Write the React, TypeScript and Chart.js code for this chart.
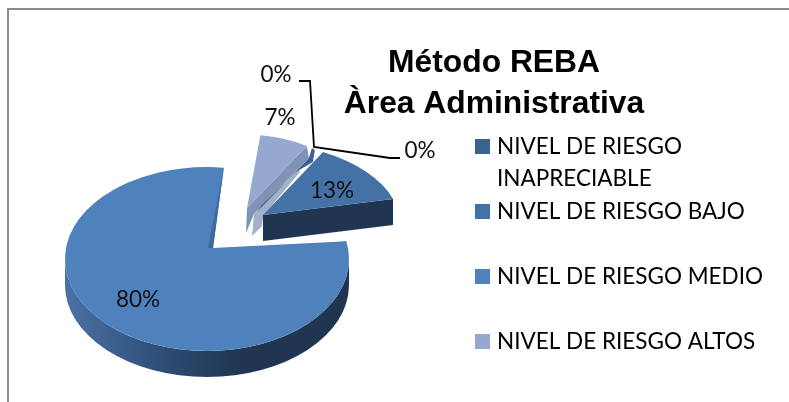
import React, { useEffect, useRef } from "react";
import { Chart, registerables } from "chart.js";

Chart.register(...registerables);

const categories = [
  ["NIVEL DE RIESGO", "INAPRECIABLE"],
  ["NIVEL DE RIESGO BAJO", ""],
  ["NIVEL DE RIESGO MEDIO", ""],
  ["NIVEL DE RIESGO ALTOS", ""],
  ["", ""],
];
const values = [0, 13, 80, 7, 0];
const sliceColors = ["#3b6291", "#4572a6", "#4f81bd", "#95a9d0", "#7f93b5"];
const titleLines = ["Método REBA", "Àrea Administrativa"];

const FONT = "Lato";
const TEXT_SIZE = 22.5;
const K = 0.648;
const DEPTH = 26;
// exploded 3D placement, screen px: [centre x, centre y, radius]
const PLACE: number[][] = [
  [290, 182, 4],
  [263, 215, 128],
  [207, 259, 142],
  [247, 208, 113],
  [290, 182, 4],
];
const MEDIO_APEX = [213, 248];
// where the corners of the foreshortened right slice land, relative to its apex
const BAJO_V1 = [60, -63];
const BAJO_V2 = [130, -16];
// label centres in screen px, same order as values
const LABEL_AT: number[][] = [
  [420, 151],
  [332, 191],
  [138, 300],
  [280, 117.5],
  [276, 75],
];

const poly = (ctx: any, pts: number[][], fill: any) => {
  ctx.beginPath();
  pts.forEach((p, i) => (i ? ctx.lineTo(p[0], p[1]) : ctx.moveTo(p[0], p[1])));
  ctx.closePath();
  ctx.fillStyle = fill;
  ctx.fill();
};
const edge = (el: any, a: number) => [
  el.x + el.outerRadius * Math.cos(a),
  (el.y + el.outerRadius * Math.sin(a)) * K,
];

const pie3d = {
  id: "pie3d",
  beforeDraw(chart: any) {
    const { ctx } = chart;
    ctx.save();
    ctx.fillStyle = "#ffffff";
    ctx.fillRect(0, 0, chart.width, chart.height);
    ctx.fillStyle = "#8a8a8a";
    ctx.fillRect(7, 8, chart.width - 7, 2);
    ctx.fillRect(7, 8, 2, chart.height - 8);
    ctx.restore();
  },
  afterLayout(chart: any) {
    const t = chart.titleBlock;
    t.left = 294;
    t.right = 694;
    t.top = 43;
    const l = chart.legend;
    l.left = 479.25;
    l.top = 135.25;
    // the legend is placed by hand, so its own clip box no longer applies
    l.draw = function () {
      this._draw();
    };
  },
  afterDatasetsUpdate(chart: any) {
    chart.getDatasetMeta(0).data.forEach((el: any, i: number) => {
      el.x = PLACE[i][0];
      el.y = PLACE[i][1] / K;
      el.outerRadius = PLACE[i][2];
      el.innerRadius = 0;
    });
  },
  beforeDatasetDraw(chart: any) {
    const { ctx } = chart;
    const els = chart.getDatasetMeta(0).data;
    const [, bajo, medio, altos] = els;
    const drawTop = (el: any) => {
      ctx.save();
      ctx.scale(1, K);
      el.draw(ctx);
      ctx.restore();
    };

    // rim of the large slice
    const mx = medio.x;
    const my = medio.y * K;
    const mr = medio.outerRadius;
    const g = ctx.createLinearGradient(mx - mr, 0, mx + mr, 0);
    g.addColorStop(0, "#4a72a6");
    g.addColorStop(0.3, "#30527c");
    g.addColorStop(0.62, "#1f3550");
    g.addColorStop(1, "#1f3550");
    ctx.beginPath();
    ctx.ellipse(mx, my, mr, mr * K, 0, 0, Math.PI);
    ctx.ellipse(mx, my + DEPTH, mr, mr * K, 0, Math.PI, 0, true);
    ctx.closePath();
    ctx.fillStyle = g;
    ctx.fill();

    drawTop(medio);
    const mStart = edge(medio, medio.startAngle);
    const mEnd = edge(medio, medio.endAngle);
    poly(
      ctx,
      [
        [mx - 2, my + 5],
        [mStart[0] - 2, mStart[1] + 4],
        mStart,
        MEDIO_APEX,
        mEnd,
        [mEnd[0] - 3, mEnd[1] + 6],
      ],
      sliceColors[2]
    );
    poly(ctx, [mEnd, MEDIO_APEX, [MEDIO_APEX[0] - 5, MEDIO_APEX[1]]], "#3f6a9e");

    // wall of the small slice and the zero-value sliver
    const aApex = [altos.x, altos.y * K];
    const aEnd = edge(altos, altos.endAngle);
    poly(
      ctx,
      [
        aApex,
        aEnd,
        [aEnd[0] + 2, aEnd[1] + 12],
        [aApex[0] + 7, aApex[1] + 6],
        [aApex[0] - 1, aApex[1] + 25],
      ],
      sliceColors[4]
    );
    poly(
      ctx,
      [
        [aApex[0] + 5, aApex[1] + 28],
        [aApex[0] + 15, aApex[1] + 18],
        [aApex[0] + 16, aApex[1] + 8],
        [aApex[0] + 53, aApex[1] - 36],
        [aApex[0] + 51, aApex[1] - 40],
        [aApex[0] + 7, aApex[1] + 6],
      ],
      "#a4b0c6"
    );
    poly(
      ctx,
      [
        [aApex[0] + 10, aApex[1] + 4],
        [aEnd[0] + 2, aEnd[1] + 12],
        [aEnd[0] + 5, aEnd[1] + 2],
        [aEnd[0] + 8, aEnd[1] + 4],
        [aEnd[0] + 6, aEnd[1] + 16],
        [aApex[0] + 49, aApex[1] - 36],
        [aApex[0] + 15, aApex[1] - 3],
      ],
      sliceColors[0]
    );
    drawTop(altos);

    // front wall and top of the right slice
    const bx = bajo.x;
    const by = bajo.y * K;
    const bEnd = [bx + BAJO_V2[0], by + BAJO_V2[1]];
    poly(
      ctx,
      [
        [bx, by],
        bEnd,
        [bEnd[0], bEnd[1] + DEPTH],
        [bx, by + DEPTH],
      ],
      "#1f3550"
    );
    const u1 = [Math.cos(bajo.startAngle), Math.sin(bajo.startAngle)];
    const u2 = [Math.cos(bajo.endAngle), Math.sin(bajo.endAngle)];
    const det = u1[0] * u2[1] - u2[0] * u1[1];
    const r = bajo.outerRadius;
    const a = (BAJO_V1[0] * u2[1] - BAJO_V2[0] * u1[1]) / det / r;
    const c = (BAJO_V2[0] * u1[0] - BAJO_V1[0] * u2[0]) / det / r;
    const b = (BAJO_V1[1] * u2[1] - BAJO_V2[1] * u1[1]) / det / r;
    const d = (BAJO_V2[1] * u1[0] - BAJO_V1[1] * u2[0]) / det / r;
    ctx.save();
    ctx.transform(a, b, c, d, bx - a * bajo.x - c * bajo.y, by - b * bajo.x - d * bajo.y);
    bajo.draw(ctx);
    ctx.restore();
    return false;
  },
  afterDraw(chart: any) {
    const { ctx } = chart;
    ctx.save();
    ctx.strokeStyle = "#000000";
    ctx.lineWidth = 1.8;
    ctx.beginPath();
    ctx.moveTo(299, 81);
    ctx.lineTo(310, 81);
    ctx.lineTo(314, 147);
    ctx.lineTo(390, 158);
    ctx.lineTo(400, 158);
    ctx.stroke();
    ctx.fillStyle = "#111111";
    ctx.font = `${TEXT_SIZE}px ${FONT}`;
    ctx.textAlign = "center";
    ctx.textBaseline = "middle";
    values.forEach((v, i) => {
      ctx.fillText(`${v}%`, LABEL_AT[i][0], LABEL_AT[i][1]);
    });
    ctx.restore();
  },
};

export default function App() {
  const ref = useRef<HTMLCanvasElement | null>(null);
  useEffect(() => {
    const chart = new Chart(ref.current as HTMLCanvasElement, {
      type: "pie",
      data: {
        labels: categories.map((c) => c.join(" ").trim()),
        datasets: [
          {
            data: values,
            backgroundColor: sliceColors,
            borderWidth: 0,
            hoverOffset: 0,
          },
        ],
      },
      options: {
        responsive: false,
        animation: false,
        rotation: 32,
        layout: { padding: 0 },
        plugins: {
          tooltip: { enabled: false },
          title: {
            display: true,
            text: titleLines,
            color: "#000000",
            padding: 0,
            font: {
              family: "Liberation Sans",
              size: 31.8,
              weight: "bold",
              lineHeight: 41 / 31.8,
            },
          },
          legend: {
            display: true,
            position: "right",
            align: "start",
            labels: {
              boxWidth: 6.5,
              boxHeight: 6.5,
              padding: 0,
              color: "#111111",
              font: { family: FONT, size: TEXT_SIZE, lineHeight: 32.5 / TEXT_SIZE },
              generateLabels: () =>
                categories.slice(0, 4).map((c, i) => ({
                  text: c,
                  fillStyle: sliceColors[i],
                  strokeStyle: sliceColors[i],
                  lineWidth: 8.5,
                  hidden: false,
                  index: i,
                })) as any,
            },
          },
        },
      } as any,
      plugins: [pie3d],
    });
    return () => chart.destroy();
  }, []);
  return (
    <canvas
      ref={ref}
      width={789}
      height={402}
      style={{ position: "fixed", left: 0, top: 0, width: 789, height: 402 }}
    />
  );
}
